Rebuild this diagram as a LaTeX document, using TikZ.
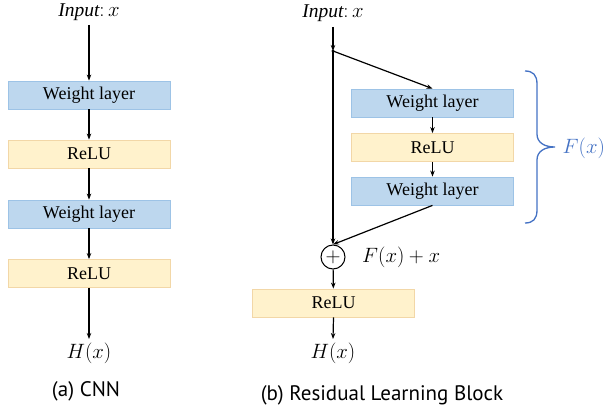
\documentclass[tikz,border=0pt]{standalone}
\usepackage{fontspec}
\setmainfont{Liberation Serif}
\newfontfamily\capfont{PT Sans}
\usetikzlibrary{arrows.meta}
\definecolor{bluefill}{HTML}{BDD7EE}
\definecolor{blueline}{HTML}{9DC3E6}
\definecolor{yelfill}{HTML}{FFF2CC}
\definecolor{yelline}{HTML}{F2D7A7}
\definecolor{bracecol}{HTML}{4472C4}
\tikzset{
  box/.style={minimum width=162pt, minimum height=28pt, inner sep=0pt, line width=0.8pt, font=\fontsize{18}{20}\selectfont},
  wl/.style={box, draw=blueline, fill=bluefill},
  rl/.style={box, draw=yelline, fill=yelfill},
  lbl/.style={inner sep=0pt, font=\fontsize{19.5}{22}\selectfont},
  captext/.style={inner sep=0pt, font=\capfont\fontsize{21}{24}\selectfont},
  arr/.style={line width=1.2pt, -{Stealth[length=6pt,width=4.5pt]}},
}
\begin{document}
\begin{tikzpicture}[x=1pt,y=-1pt]
\useasboundingbox (0,0) rectangle (606,412);
% (a) CNN
\node[lbl] (ina) at (89,12) {$\mathit{Input}{:}\,x$};
\node[wl] (w1) at (89,95) {Weight layer};
\node[rl] (r1) at (89,154) {ReLU};
\node[wl] (w2) at (89,214) {Weight layer};
\node[rl] (r2) at (89,273.5) {ReLU};
\node[lbl] (ha) at (89,353) {$H(x)$};
\node[captext] (ca) at (86,391) {(a) CNN};
\draw[arr] (89,25) -- (w1.north);
\draw[arr] (w1) -- (r1);
\draw[arr] (r1) -- (w2);
\draw[arr] (w2) -- (r2);
\draw[arr] (r2.south) -- (89,339);
% (b) Residual block
\node[lbl] (inb) at (333,13) {$\mathit{Input}{:}\,x$};
\coordinate (split) at (333,51);
\node[wl] (bw1) at (432.5,103) {Weight layer};
\node[rl] (br) at (432.5,147.5) {ReLU};
\node[wl] (bw2) at (432.5,191) {Weight layer};
\node[circle, draw, line width=1pt, minimum size=24pt, inner sep=0pt, font=\fontsize{20}{20}\selectfont] (plus) at (333,257) {$+$};
\node[lbl, anchor=west] (fx) at (362,257) {$F(x)+x$};
\node[rl] (br2) at (333.5,303) {ReLU};
\node[lbl] (hb) at (333,353) {$H(x)$};
\node[captext] (cb) at (382,395) {(b) Residual Learning Block};
\node[lbl, anchor=west, text=bracecol] (fxb) at (562.5,148) {$F(x)$};
\draw[arr] (333,27) -- (split);
\fill (split) circle (1.6pt);
\draw[arr] (split) -- (bw1.north);
\draw[arr] (bw1) -- (br);
\draw[arr] (br) -- (bw2);
\draw[arr] (split) -- (plus.north);
\draw[arr] (bw2.south) -- (plus.north);
\draw[arr] (plus) -- (br2);
\draw[arr] (br2.south) -- (333,339);
% brace
\draw[bracecol, line width=1.3pt] (525,71) .. controls (533,71) and (537,75) .. (537,84) -- (537,134) .. controls (537,143) and (545,147) .. (555,147) .. controls (545,147) and (537,151) .. (537,160) -- (537,210) .. controls (537,219) and (533,223) .. (525,223);
\end{tikzpicture}
\end{document}
